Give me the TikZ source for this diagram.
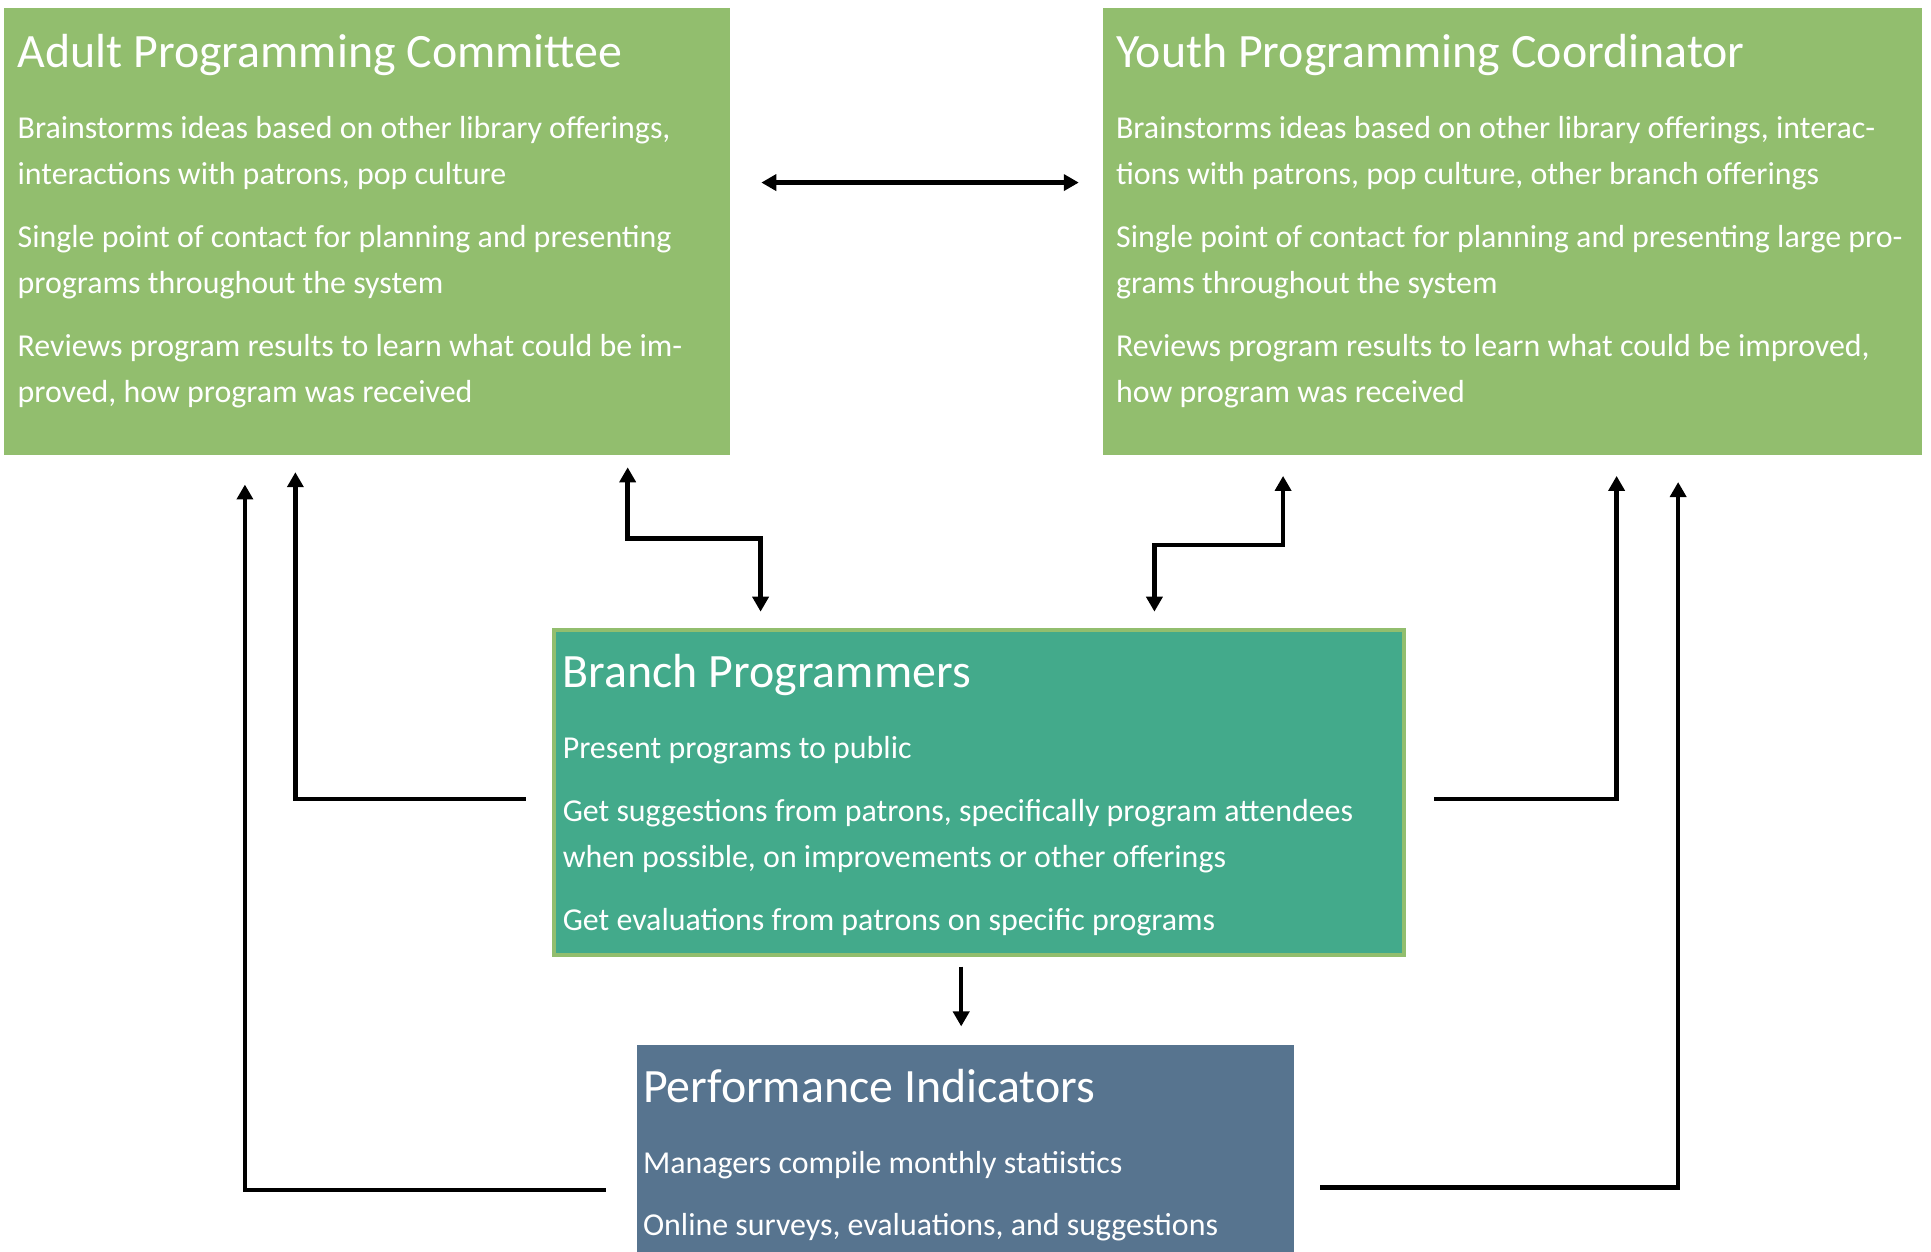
\documentclass[tikz,border=0pt]{standalone}
\usepackage{fontspec}
\setmainfont{Carlito}
\usepackage{tikz}
\usetikzlibrary{
    arrows.meta,
    positioning,
    calc
}
\definecolor{plgreen}{HTML}{92BE6E}
\definecolor{plteal}{HTML}{43AA8B}
\definecolor{plslate}{HTML}{57748F}
\tikzset{
    % Filled programming box
    plbox/.style={
        rectangle,
        draw=none,
        fill=#1,
        inner sep=0pt,
        anchor=north west
    },
    plbox/.default=plgreen,
    % Box title
    pltitle/.style={
        text=white,
        font=\fontsize{24}{28}\selectfont,
        inner sep=0pt
    },
    % Box body text
    pltext/.style={
        text=white,
        font=\fontsize{16}{23.1}\selectfont,
        align=left,
        inner sep=0pt
    },
    % Arrow style
    plarrow/.style={
        ->,
        >={Triangle[length=7.5pt,width=8pt]},
        line width=2.2pt,
        color=black
    }
}
\newcommand{\plgap}{\\[8.4pt]}
\newcommand{\plstrut}{\rule{0pt}{13pt}}

\begin{document}
\begin{tikzpicture}[x=0.617pt, y=-0.617pt]
    \useasboundingbox (0,0) rectangle (1569,1016.5);
    \fill[white] (0,0) rectangle (1569,1016.5);
    \clip (0,0) rectangle (1569,1016.5);

    % boxes
    \node[plbox, minimum width=364pt, minimum height=224pt] (adult) at (3,6) {};
    \node[plbox, minimum width=410.9pt, minimum height=224pt, right=186.3pt of adult, anchor=west] (youth) {};
    \node[plbox=plteal, draw=plgreen, line width=2pt, minimum width=426.3pt, minimum height=163pt] (branch) at (448.5,510.5) {};
    \node[plbox=plslate, minimum width=329.5pt, minimum height=125pt] (perf) at (517,849) {};

    % texts
    \node[pltitle, below right=30.2pt and 6.8pt of adult.north west, anchor=base west] (adult-title) {Adult Programming Committee};
    \node[pltext, below right=52.7pt and 6.8pt of adult.north west] (adult-text) {\plstrut Brainstorms ideas based on other library offerings,\\
        interactions with patrons, pop culture\plgap
        Single point of contact for planning and presenting\\
        programs throughout the system\plgap
        Reviews program results to learn what could be im-\\
        proved, how program was received};

    \node[pltitle, below right=30.2pt and 6.8pt of youth.north west, anchor=base west] (youth-title) {Youth Programming Coordinator};
    \node[pltext, below right=52.7pt and 6.8pt of youth.north west] (youth-text) {\plstrut Brainstorms ideas based on other library offerings, interac-\\
        tions with patrons, pop culture, other branch offerings\plgap
        Single point of contact for planning and presenting large pro-\\
        grams throughout the system\plgap
        Reviews program results to learn what could be improved,\\
        how program was received};

    \node[pltitle, below right=29.8pt and 5.2pt of branch.north west, anchor=base west] (branch-title) {Branch Programmers};
    \node[pltext, below right=52pt and 5.2pt of branch.north west] (branch-text) {\plstrut Present programs to public\plgap
        Get suggestions from patrons, specifically program attendees\\
        when possible, on improvements or other offerings\plgap
        Get evaluations from patrons on specific programs};

    \node[pltitle, below right=29pt and 3.2pt of perf.north west, anchor=base west] (perf-title) {Performance Indicators};
    \node[pltext, below right=51.1pt and 3.2pt of perf.north west] (perf-text) {\plstrut Managers compile monthly statiistics\plgap
        Online surveys, evaluations, and suggestions};

    % connectors
    \draw[plarrow, <->] ($(adult.east)+(25,-39.5)$) -- ($(youth.west)+(-19,-39.5)$);
    \draw[plarrow, <->] ($(adult.south west)+(507,10)$) -- ++(0,58) -| ($(branch.north west)+(169.5,-13.5)$);
    \draw[plarrow, <->] ($(youth.south west)+(147,17)$) -- ++(0,56) -| ($(branch.north west)+(489.5,-13.5)$);
    \draw[plarrow] ($(branch.west)+(-21.5,5)$) -| ($(adult.south west)+(237,14)$);
    \draw[plarrow] ($(branch.east)+(22.5,5)$) -| ($(youth.south west)+(418,17)$);
    \draw[plarrow] ($(branch.south west)+(332.5,7.5)$) -- ($(perf.north west)+(264,-15)$);
    \draw[plarrow] ($(perf.north west)+(-25,118)$) -| ($(adult.south west)+(196,24)$);
    \draw[plarrow] ($(perf.north east)+(21,116)$) -| ($(youth.south west)+(468,22)$);
\end{tikzpicture}
\end{document}
